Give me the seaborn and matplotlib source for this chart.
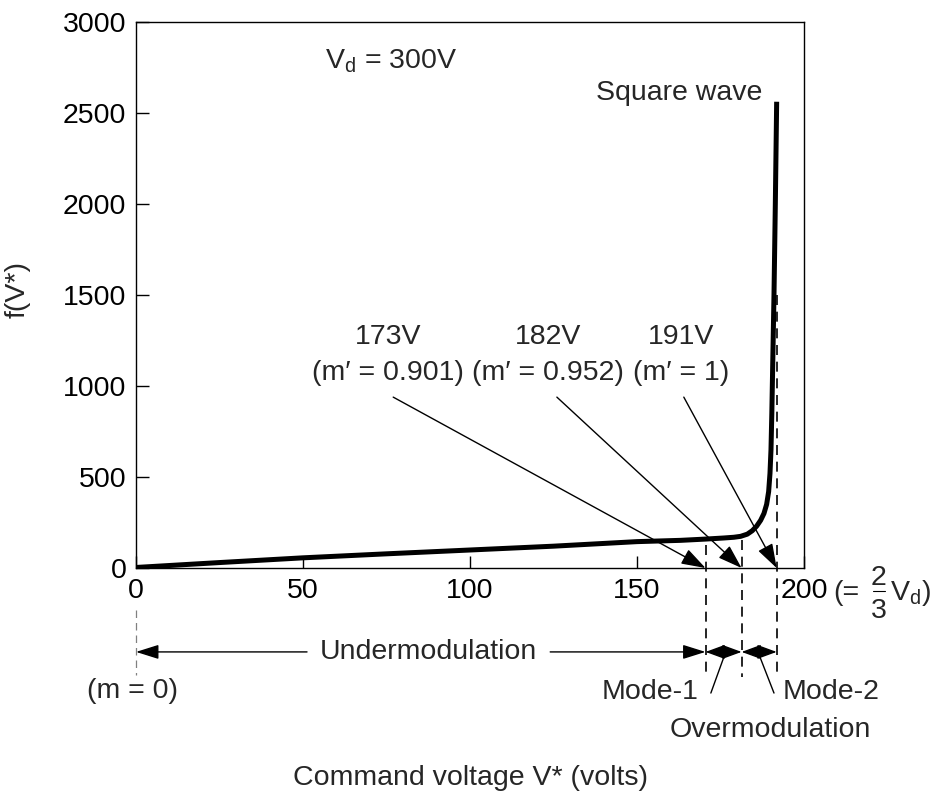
import numpy as np
import matplotlib
matplotlib.use('Agg')
import matplotlib.pyplot as plt
import seaborn as sns

# curve f(V*)
v_curve = [0, 25, 50, 75, 100, 125, 150, 163, 170.5, 176, 179, 181, 183, 184.5,
           185.8, 187, 188, 188.8, 189.4, 189.8, 190.1, 190.35, 190.6, 191.0,
           191.4, 191.8]
f_curve = [3, 30, 56, 78, 99, 120, 145, 152, 159, 165, 169, 174, 186, 205,
           230, 262, 300, 350, 420, 520, 650, 850, 1100, 1500,
           2000, 2562]

x_ticks = [0, 50, 100, 150, 200]
y_ticks = [0, 500, 1000, 1500, 2000, 2500, 3000]

# boundaries between modulation regions
boundary_v = [170.5, 181.3, 191.8]
boundary_top = [126, 154, 1500]
volt_labels = ['173V', '182V', '191V']
m_labels = ['(m\u2032 = 0.901)', '(m\u2032 = 0.952)', '(m\u2032 = 1)']
label_x = [75.4, 123.4, 163.3]
leader_x = [77, 126, 164]

sns.set_style('ticks')
plt.rcParams['font.family'] = ['Liberation Sans', 'DejaVu Sans']
plt.rcParams['mathtext.fontset'] = 'custom'
plt.rcParams['mathtext.rm'] = 'Liberation Sans'
plt.rcParams['mathtext.it'] = 'Liberation Sans:italic'
plt.rcParams['mathtext.bf'] = 'Liberation Sans:bold'

FS = 20.5

fig = plt.figure(figsize=(9.38, 7.98), dpi=100)
ax = fig.add_axes([0.145, 0.2882, 0.7122, 0.6842])

sns.lineplot(x=v_curve, y=f_curve, ax=ax, color='black', lw=3.6, sort=False,
             estimator=None, solid_capstyle='butt')

ax.set_xlim(0, 200)
ax.set_ylim(0, 3000)
ax.set_xticks(x_ticks)
ax.set_yticks(y_ticks)
ax.tick_params(direction='in', length=9, width=1, top=False, right=False,
               labelsize=FS, pad=7, colors='black')
for s in ax.spines.values():
    s.set_linewidth(1.0)
    s.set_color('black')
    s.set_visible(True)
ax.set_xlabel('')
ax.set_ylabel('')

# dashed boundary lines
for v, top in zip(boundary_v, boundary_top):
    ax.plot([v, v], [top, -598], color='black', lw=1.2, ls=(0, (6, 4)), clip_on=False)
ax.plot([0, 0], [-231, -587], color='grey', lw=0.9, ls=(0, (6, 4)), clip_on=False)

# labels with leader arrows
for v, vl, ml, lx, ldx in zip(boundary_v, volt_labels, m_labels, label_x, leader_x):
    ax.text(lx, 1269, vl, ha='center', va='center', fontsize=FS)
    ax.text(lx, 1071, ml, ha='center', va='center', fontsize=FS)
    ax.annotate('', xy=(v, 0), xytext=(ldx, 939), annotation_clip=False,
                arrowprops=dict(arrowstyle='-|>,head_length=0.75,head_width=0.25',
                                color='black', lw=1, shrinkA=0, shrinkB=0,
                                mutation_scale=20))

ax.text(56.5, 2786, r'V$_\mathrm{d}$ = 300V', ha='left', va='center', fontsize=FS)
ax.text(187.5, 2610, 'Square wave', ha='right', va='center', fontsize=FS)

# region arrows below the axis
y_arr = -461
ax.annotate('', xy=(0, y_arr), xytext=(51.2, y_arr), annotation_clip=False,
            arrowprops=dict(arrowstyle='-|>,head_length=0.7,head_width=0.22',
                            color='black', lw=1, shrinkA=0, shrinkB=0, mutation_scale=20))
ax.annotate('', xy=(boundary_v[0], y_arr), xytext=(124, y_arr), annotation_clip=False,
            arrowprops=dict(arrowstyle='-|>,head_length=0.7,head_width=0.22',
                            color='black', lw=1, shrinkA=0, shrinkB=0, mutation_scale=20))
ax.text(87.5, y_arr, 'Undermodulation', ha='center', va='center', fontsize=FS)
for a, b in [(boundary_v[0], boundary_v[1]), (boundary_v[1], boundary_v[2])]:
    ax.annotate('', xy=(b, y_arr), xytext=(a, y_arr), annotation_clip=False,
                arrowprops=dict(arrowstyle='<|-|>,head_length=0.6,head_width=0.22',
                                color='black', lw=1, shrinkA=0, shrinkB=0,
                                mutation_scale=20))

ax.plot([172.1, 176], [-687, -489], color='black', lw=1, clip_on=False)
ax.plot([191, 186.8], [-687, -489], color='black', lw=1, clip_on=False)
ax.text(168.5, -681, 'Mode-1', ha='right', va='center', fontsize=FS)
ax.text(193.6, -681, 'Mode-2', ha='left', va='center', fontsize=FS)
ax.text(189.8, -889, 'Overmodulation', ha='center', va='center', fontsize=FS)
ax.text(-1.1, -675, '(m = 0)', ha='center', va='center', fontsize=FS)

# "(= 2/3 Vd)" next to the 200 tick label
ax.text(208.8, -176, '(=', ha='left', va='baseline', fontsize=FS)
ax.text(222.3, -93, '2', ha='center', va='baseline', fontsize=FS)
ax.text(222.3, -275, '3', ha='center', va='baseline', fontsize=FS)
ax.plot([220.5, 224.1], [-126, -126], color='black', lw=0.8, clip_on=False)
ax.text(225.6, -176, r'V$_\mathrm{d}$)', ha='left', va='baseline', fontsize=FS)

ax.text(100, -1153, 'Command voltage V* (volts)', ha='center', va='center', fontsize=FS)
ax.text(-35.5, 1530, 'f(V*)', ha='center', va='center', rotation=90, fontsize=FS)

fig.savefig('out.png', dpi=100)
